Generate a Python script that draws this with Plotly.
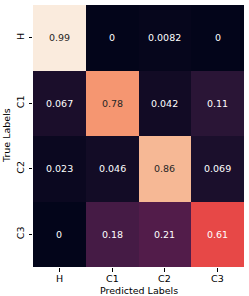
import plotly.graph_objects as go

pred_labels = ["H", "C1", "C2", "C3"]
true_labels = ["H", "C1", "C2", "C3"]
row_H = [0.99, 0, 0.0082, 0]
row_C1 = [0.067, 0.78, 0.042, 0.11]
row_C2 = [0.023, 0.046, 0.86, 0.069]
row_C3 = [0, 0.18, 0.21, 0.61]
z = [row_H, row_C1, row_C2, row_C3]

rocket = [
    [0.0, "#03051A"],
    [1/7, "#35193E"],
    [2/7, "#701F57"],
    [3/7, "#AD1759"],
    [4/7, "#E13342"],
    [5/7, "#F37651"],
    [6/7, "#F6B48F"],
    [1.0, "#FAEBDD"],
]

zmax = max(max(r) for r in z)

fig = go.Figure(go.Heatmap(
    z=z, x=pred_labels, y=true_labels,
    colorscale=rocket, zmin=0, zmax=zmax, showscale=False,
))

font = "DejaVu Sans"
fs = 9.5
for i, t in enumerate(true_labels):
    for j, p in enumerate(pred_labels):
        v = z[i][j]
        col = "#262626" if v / zmax > 0.7 else "white"
        fig.add_annotation(x=p, y=t, text="{:.2g}".format(v), showarrow=False,
                           font=dict(family=font, size=fs, color=col))

# x tick labels placed at the category positions of the x axis
for p in pred_labels:
    fig.add_annotation(x=p, yref="paper", y=0, yshift=-11, yanchor="middle",
                       text=p, showarrow=False,
                       font=dict(family=font, size=fs, color="black"))

fig.add_annotation(xref="paper", yref="paper", x=0.5, y=0, yshift=-23.5,
                   text="Predicted Labels", showarrow=False, yanchor="middle",
                   font=dict(family=font, size=fs, color="black"))
fig.add_annotation(xref="paper", yref="paper", x=0, y=0.5, xshift=-27,
                   text="True Labels", showarrow=False, textangle=-90, xanchor="center",
                   font=dict(family=font, size=fs, color="black"))

fig.update_layout(
    width=249, height=296,
    margin=dict(l=33, r=5, t=5, b=29),
    paper_bgcolor="white", plot_bgcolor="white",
    font=dict(family=font, size=fs, color="black"),
)
fig.update_xaxes(ticks="outside", ticklen=3.5, tickwidth=0.8, tickcolor="black",
                 showticklabels=False, automargin=False,
                 showgrid=False, zeroline=False, showline=False)
fig.update_yaxes(autorange="reversed", tickangle=-90, automargin=False,
                 ticks="outside", ticklen=3.5, tickwidth=0.8, tickcolor="black",
                 ticklabelstandoff=1,
                 showgrid=False, zeroline=False, showline=False)

fig.write_html("out.html", config={"displayModeBar": False},
               post_script="document.body.style.margin='0';document.body.style.overflow='hidden';")
